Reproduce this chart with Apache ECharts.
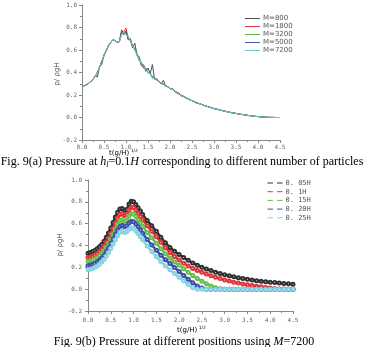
<!DOCTYPE html>
<html>
<head>
<meta charset="utf-8">
<script src="https://cdn.jsdelivr.net/npm/echarts@6/dist/echarts.min.js"></script>
<style>
  html, body { margin: 0; padding: 0; background: #fff; }
  #chart { width: 365px; height: 347px; }
</style>
</head>
<body>
<div id="chart"></div>
<script>
// time axis (top chart)
const T = [0,0.05,0.1,0.15,0.2,0.25,0.3,0.35,0.4,0.45,0.5,0.55,0.6,0.65,0.7,0.75,0.8,0.85,0.9,0.95,
  1,1.05,1.1,1.15,1.2,1.25,1.3,1.35,1.4,1.45,1.5,1.55,1.6,1.65,1.7,1.75,1.8,1.85,1.9,1.95,
  2,2.05,2.1,2.15,2.2,2.25,2.3,2.35,2.4,2.45,2.5,
  2.6,2.7,2.8,2.9,3,3.1,3.2,3.3,3.4,3.5,3.6,3.7,3.8,3.9,4,4.1,4.2,4.3,4.4,4.5];

const m800 = [0.280,0.282,0.290,0.305,0.320,0.338,0.372,0.360,0.455,0.470,
  0.560,0.590,0.640,0.668,0.688,0.683,0.668,0.680,0.780,0.740,
  0.770,0.700,0.690,0.620,0.660,0.560,0.540,0.460,0.470,0.410,
  0.440,0.390,0.470,0.340,0.345,0.315,0.300,0.330,0.280,0.275,
  0.255,0.260,0.232,0.218,0.220,0.190,0.195,0.172,0.170,0.155,0.150,
  0.128,0.120,0.101,0.093,0.078,0.071,0.059,0.052,0.042,0.036,
  0.029,0.023,0.017,0.012,0.008,0.004,0.002,0.001,0.000,0.000];
const m1800 = [0.280,0.282,0.290,0.305,0.320,0.340,0.365,0.402,0.448,0.502,
  0.548,0.596,0.635,0.666,0.690,0.684,0.668,0.672,0.745,0.760,
  0.795,0.700,0.690,0.635,0.610,0.555,0.525,0.470,0.440,0.430,
  0.400,0.388,0.360,0.352,0.330,0.322,0.300,0.296,0.280,0.273,
  0.258,0.252,0.236,0.226,0.208,0.200,0.186,0.180,0.166,0.160,0.148,
  0.133,0.118,0.104,0.092,0.080,0.070,0.060,0.051,0.043,0.036,
  0.029,0.023,0.017,0.012,0.008,0.004,0.002,0.001,0.000,0.000];
const m3200 = [0.280,0.282,0.290,0.305,0.320,0.340,0.365,0.400,0.450,0.500,
  0.550,0.595,0.635,0.665,0.690,0.685,0.670,0.675,0.745,0.755,
  0.745,0.725,0.675,0.645,0.600,0.555,0.510,0.480,0.455,0.425,
  0.405,0.385,0.365,0.350,0.335,0.320,0.305,0.295,0.283,0.272,
  0.260,0.250,0.238,0.225,0.210,0.198,0.188,0.178,0.168,0.158,0.150,
  0.133,0.118,0.104,0.092,0.080,0.070,0.060,0.051,0.043,0.036,
  0.029,0.023,0.017,0.012,0.008,0.004,0.002,0.001,0.000,0.000];
const m5000 = [0.280,0.282,0.290,0.305,0.320,0.340,0.366,0.398,0.452,0.498,
  0.552,0.594,0.636,0.664,0.690,0.686,0.670,0.676,0.755,0.735,
  0.760,0.690,0.700,0.630,0.615,0.565,0.515,0.490,0.440,0.440,
  0.400,0.390,0.362,0.352,0.333,0.322,0.303,0.297,0.282,0.274,
  0.258,0.251,0.237,0.226,0.209,0.199,0.187,0.179,0.167,0.159,0.149,
  0.133,0.118,0.104,0.092,0.080,0.070,0.060,0.051,0.043,0.036,
  0.029,0.023,0.017,0.012,0.008,0.004,0.002,0.001,0.000,0.000];
const m7200 = [0.280,0.282,0.290,0.305,0.320,0.340,0.365,0.400,0.450,0.500,
  0.550,0.595,0.635,0.665,0.690,0.685,0.670,0.675,0.740,0.750,
  0.740,0.715,0.680,0.640,0.600,0.560,0.520,0.485,0.452,0.428,
  0.405,0.390,0.345,0.352,0.335,0.320,0.305,0.295,0.283,0.272,
  0.260,0.250,0.238,0.225,0.210,0.198,0.188,0.178,0.168,0.158,0.150,
  0.133,0.118,0.104,0.092,0.080,0.070,0.060,0.051,0.043,0.036,
  0.029,0.023,0.017,0.012,0.008,0.004,0.002,0.001,0.000,0.000];

// time axis (bottom chart)
const TB = [0,0.05,0.1,0.15,0.2,0.25,0.3,0.35,0.4,0.45,0.5,0.55,0.6,0.65,0.7,0.75,0.8,0.85,0.9,0.95,
  1,1.05,1.1,1.15,1.2,
  1.3,1.4,1.5,1.6,1.7,1.8,1.9,2,2.1,2.2,2.3,2.4,2.5,2.6,2.7,2.8,2.9,3,3.1,3.2,3.3,3.4,3.5,3.6,3.7,3.8,3.9,4,4.1,4.2,4.3,4.4,4.5];

const h005 = [0.33,0.335,0.345,0.355,0.37,0.388,0.41,0.44,0.475,0.515,0.56,0.61,0.66,0.705,0.735,0.738,0.722,0.73,0.78,0.805,
  0.80,0.775,0.745,0.715,0.685,
  0.63,0.58,0.53,0.475,0.425,0.382,0.348,0.318,0.29,0.264,0.24,0.219,0.201,0.185,0.17,0.156,0.144,0.133,0.123,0.113,0.105,
  0.097,0.09,0.084,0.078,0.073,0.068,0.064,0.06,0.056,0.052,0.049,0.046];
const h010 = [0.29,0.295,0.303,0.313,0.327,0.344,0.365,0.393,0.427,0.465,0.508,0.556,0.605,0.65,0.685,0.69,0.675,0.683,0.725,0.75,
  0.748,0.725,0.695,0.665,0.635,
  0.58,0.53,0.48,0.43,0.38,0.336,0.3,0.268,0.238,0.212,0.19,0.172,0.156,0.14,0.124,0.11,0.097,0.085,0.074,0.064,0.056,
  0.048,0.04,0.033,0.027,0.021,0.016,0.011,0.006,0.002,0.001,0,0];
const h015 = [0.255,0.26,0.267,0.277,0.29,0.306,0.326,0.352,0.384,0.42,0.46,0.505,0.55,0.595,0.628,0.635,0.622,0.63,0.67,0.69,
  0.688,0.665,0.637,0.607,0.577,
  0.52,0.47,0.42,0.37,0.325,0.285,0.25,0.218,0.186,0.155,0.125,0.098,0.073,0.05,0.03,0.014,0.004,0,0,0,0,
  0,0,0,0,0,0,0,0,0,0,0,0];
const h020 = [0.215,0.218,0.225,0.235,0.248,0.264,0.284,0.31,0.342,0.378,0.418,0.46,0.502,0.542,0.575,0.585,0.572,0.58,0.605,0.622,
  0.618,0.598,0.572,0.543,0.513,
  0.455,0.405,0.357,0.31,0.27,0.235,0.198,0.162,0.125,0.09,0.058,0.03,0.01,0,0,0,0,0,0,0,0,
  0,0,0,0,0,0,0,0,0,0,0,0];
const h025 = [0.18,0.183,0.19,0.2,0.212,0.228,0.248,0.272,0.302,0.336,0.373,0.413,0.452,0.49,0.522,0.532,0.52,0.527,0.548,0.56,
  0.555,0.535,0.51,0.482,0.453,
  0.395,0.345,0.298,0.253,0.213,0.178,0.143,0.11,0.076,0.043,0.012,0,0,0,0,0,0,0,0,0,0,
  0,0,0,0,0,0,0,0,0,0,0,0];

const topNames = ['M=800', 'M=1800', 'M=3200', 'M=5000', 'M=7200'];
const topColors = ['#505050', '#e0383c', '#62b84a', '#4a5896', '#6cc8c4'];
const topData = [m800, m1800, m3200, m5000, m7200];

const botNames = ['0. 05H', '0. 1H', '0. 15H', '0. 20H', '0. 25H'];
const botColors = ['#303030', '#e0343a', '#66bf48', '#3a50aa', '#86d2e2'];
const botData = [h005, h010, h015, h020, h025];

const tickFont = { fontFamily: 'DejaVu Sans Mono', fontSize: 6, color: '#666' };
const fmt = v => (Math.abs(v) < 1e-9 ? 0 : v).toFixed(1);

function xAxis(gi, margin) {
  return {
    type: 'value', gridIndex: gi, min: 0, max: 4.5, interval: 0.5,
    axisLine: { onZero: false, lineStyle: { color: '#888', width: 1 } },
    axisTick: { length: 3, lineStyle: { color: '#888' } },
    minorTick: { show: true, splitNumber: 2, length: 2, lineStyle: { color: '#888' } },
    axisLabel: Object.assign({ margin: margin, formatter: fmt }, tickFont),
    splitLine: { show: false }
  };
}
function yAxis(gi, margin) {
  return {
    type: 'value', gridIndex: gi, min: -0.2, max: 1.0, interval: 0.2,
    axisLine: { show: true, lineStyle: { color: '#888', width: 1 } },
    axisTick: { show: true, length: 3, lineStyle: { color: '#888' } },
    minorTick: { show: true, splitNumber: 2, length: 2, lineStyle: { color: '#888' } },
    axisLabel: Object.assign({ margin: margin, formatter: fmt }, tickFont),
    splitLine: { show: false }
  };
}

const series = [];
topData.forEach((arr, k) => {
  series.push({
    name: topNames[k], type: 'line', xAxisIndex: 0, yAxisIndex: 0,
    data: T.map((t, i) => [t, arr[i]]),
    symbol: 'none', color: topColors[k],
    lineStyle: { width: 1 }
  });
});
botData.forEach((arr, k) => {
  series.push({
    name: botNames[k], type: 'line', xAxisIndex: 1, yAxisIndex: 1,
    data: TB.map((t, i) => [t, arr[i]]),
    symbol: 'emptyCircle', symbolSize: 3, color: botColors[k],
    itemStyle: { borderWidth: 1 },
    lineStyle: { width: 2.5 }
  });
});

const axisTitle = { fontFamily: 'DejaVu Sans', fontSize: 7, fill: '#444' };
const nameRich = {
  a: { fontSize: 7, fontFamily: 'DejaVu Sans', color: '#444', padding: [3, 0, 0, 0] },
  b: { fontSize: 4.5, fontFamily: 'DejaVu Sans', color: '#444', padding: [0, 0, 3, 0] }
};
const capFont = 'Liberation Serif';

const chart = echarts.init(document.getElementById('chart'), null, { renderer: 'canvas' });
chart.setOption({
  animation: false,
  backgroundColor: '#fff',
  grid: [
    { left: 82, top: 5, width: 198, height: 135 },
    { left: 88, top: 180, width: 205, height: 131 }
  ],
  xAxis: [xAxis(0, 4), xAxis(1, 6)],
  yAxis: [yAxis(0, 5), yAxis(1, 6)],
  legend: [
    {
      data: topNames, orient: 'vertical', left: 240, top: 10,
      icon: 'path://M0,3 L15,3 L15,4 L0,4 Z',
      itemWidth: 15, itemHeight: 7, itemGap: 1,
      textStyle: { fontFamily: 'DejaVu Sans', fontSize: 7, color: '#555', padding: [0, 0, 0, -2] }
    },
    {
      data: botNames, orient: 'vertical', left: 262, top: 174,
      itemWidth: 15, itemHeight: 3, itemGap: 0.7,
      itemStyle: { color: '#fff', borderColor: 'inherit', borderWidth: 0.8 },
      lineStyle: { width: 1 },
      textStyle: { fontFamily: 'DejaVu Sans Mono', fontSize: 7, color: '#555', lineHeight: 8, padding: [0, 0, 0, -2] }
    }
  ],
  graphic: [
    { type: 'text', left: 109, top: 148, style: { text: '{a|t(g/H)}{b| 1/2}', rich: nameRich } },
    { type: 'text', left: 177, top: 325, style: { text: '{a|t(g/H)}{b| 1/2}', rich: nameRich } },
    { type: 'text', x: 57, y: 74, rotation: Math.PI / 2, style: Object.assign({
        text: 'p/ ρgH', align: 'center', verticalAlign: 'middle' }, axisTitle) },
    { type: 'text', x: 60, y: 245, rotation: Math.PI / 2, style: Object.assign({
        text: 'p/ ρgH', align: 'center', verticalAlign: 'middle' }, axisTitle) },
    { type: 'text', x: 182, y: 162, style: {
        text: '{n|Fig. 9(a) Pressure at }{i|h}{s|l}{n|=0.1}{i|H}{n| corresponding to different number of particles}',
        align: 'center', verticalAlign: 'middle',
        rich: {
          n: { fontFamily: capFont, fontSize: 12, color: '#111' },
          i: { fontFamily: capFont, fontSize: 12, fontStyle: 'italic', color: '#111' },
          s: { fontFamily: capFont, fontSize: 8, fontStyle: 'italic', color: '#111', padding: [5, 0, 0, 0] }
        } } },
    { type: 'text', x: 184, y: 342, style: {
        text: '{n|Fig. 9(b) Pressure at different positions using }{i|M}{n|=7200}',
        align: 'center', verticalAlign: 'middle',
        rich: {
          n: { fontFamily: capFont, fontSize: 12, color: '#111' },
          i: { fontFamily: capFont, fontSize: 12, fontStyle: 'italic', color: '#111' }
        } } }
  ],
  series: series
});
</script>
</body>
</html>
